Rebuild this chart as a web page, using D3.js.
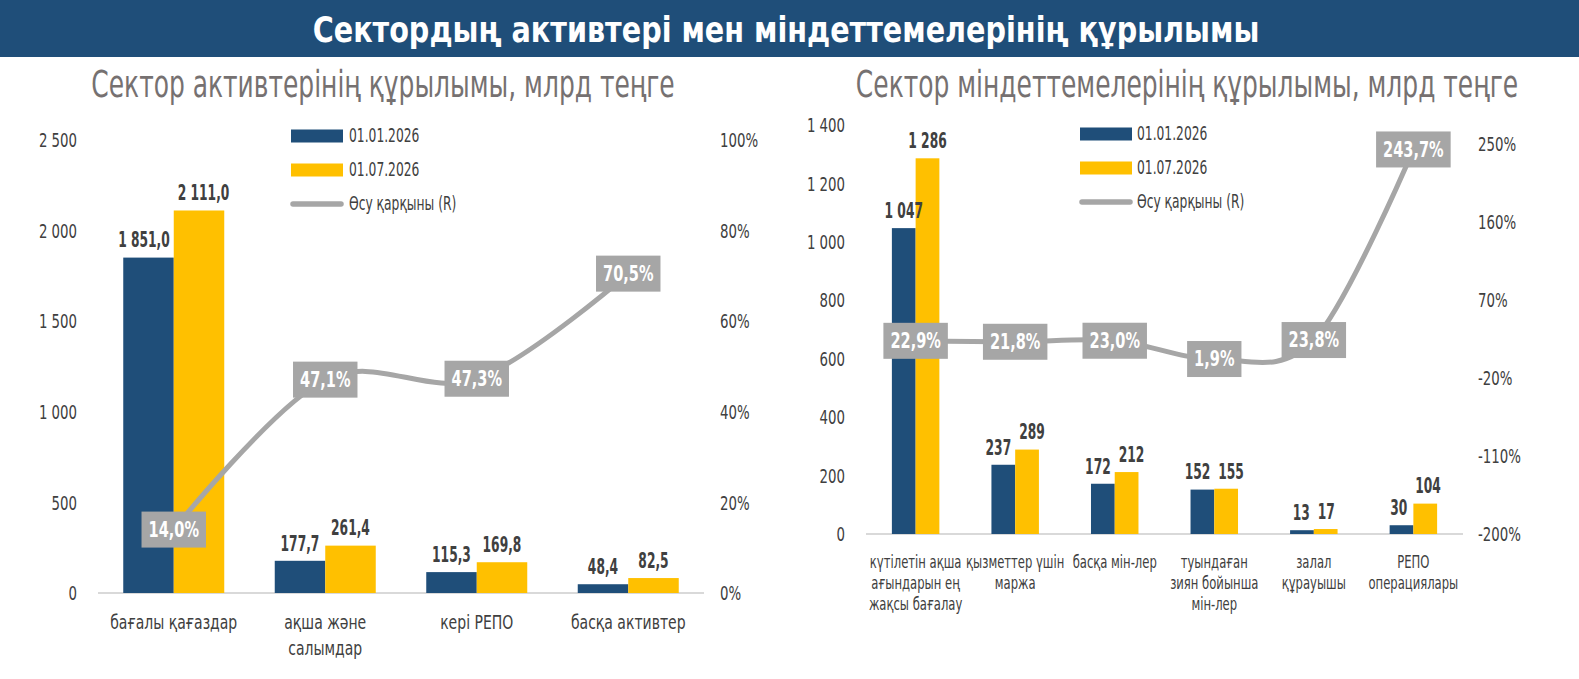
<!DOCTYPE html>
<html><head><meta charset="utf-8">
<script src="https://cdn.jsdelivr.net/npm/d3@7"></script>
<style>
html,body{margin:0;padding:0;background:#fff;}
svg{display:block;}
text{font-family:"DejaVu Sans Condensed","DejaVu Sans",sans-serif;font-stretch:condensed;}
.sq{transform-box:fill-box;}
</style></head><body>
<svg id="chart" width="1579" height="679"></svg>
<script>
// ---------- data ----------
const mainTitle = "Сектордың активтері мен міндеттемелерінің құрылымы";
const seriesNames = ["01.01.2026", "01.07.2026"];
const lineName = "Өсу қарқыны (R)";

const assetsTitle = "Сектор активтерінің құрылымы, млрд теңге";
const assetCategories = ["бағалы қағаздар", "ақша және\nсалымдар", "кері РЕПО", "басқа активтер"];
const assetsJan = [1851.0, 177.7, 115.3, 48.4];
const assetsJul = [2111.0, 261.4, 169.8, 82.5];
const assetsGrowth = [14.0, 47.1, 47.3, 70.5];
const assetsLeftTicks = [0, 500, 1000, 1500, 2000, 2500];
const assetsRightTicks = [0, 20, 40, 60, 80, 100];

const liabTitle = "Сектор міндеттемелерінің құрылымы, млрд теңге";
const liabCategories = ["күтілетін ақша\nағындарын ең\nжақсы бағалау", "қызметтер үшін\nмаржа", "басқа мін-лер",
  "туындаған\nзиян бойынша\nмін-лер", "залал\nқұрауышы", "РЕПО\nоперациялары"];
const liabJan = [1047, 237, 172, 152, 13, 30];
const liabJul = [1286, 289, 212, 155, 17, 104];
const liabGrowth = [22.9, 21.8, 23.0, 1.9, 23.8, 243.7];
const liabLeftTicks = [0, 200, 400, 600, 800, 1000, 1200, 1400];
const liabRightTicks = [-200, -110, -20, 70, 160, 250];

// ---------- styles ----------
const C = {blue: "#1f4e79", yellow: "#ffc000", grey: "#a6a6a6", text: "#404040", sub: "#767171", base: "#d9d9d9"};
const loc = d3.formatLocale({decimal: ",", thousands: " ", grouping: [3], currency: ["", ""], minus: "-"});
const svg = d3.select("#chart");

// horizontal condensing to imitate a narrow DIN-like face
function squeeze(sel, k, origin) {
  sel.classed("sq", true).style("transform-origin", origin).style("transform", `scaleX(${k})`);
  return sel;
}

svg.append("rect").attr("x", 0).attr("y", 0).attr("width", 1579).attr("height", 57).attr("fill", C.blue);
squeeze(svg.append("text").attr("x", 786).attr("y", 30).attr("text-anchor", "middle").attr("dominant-baseline", "central")
  .attr("fill", "#fff").attr("font-weight", "bold").attr("font-size", 35).text(mainTitle), 0.91, "center");

function panel(o) {
  const g = svg.append("g");
  const n = o.cats.length;
  squeeze(g.append("text").attr("x", o.titleX).attr("y", 84).attr("text-anchor", "middle").attr("dominant-baseline", "central")
    .attr("fill", C.sub).attr("font-size", 38).text(o.title), 0.73, "center");

  const x0 = d3.scaleBand().domain(d3.range(n)).range(o.xRange).paddingInner(o.pi).paddingOuter(o.po);
  const x1 = d3.scaleBand().domain([0, 1]).range([0, x0.bandwidth()]);
  const yL = d3.scaleLinear().domain(o.leftDomain).range(o.leftRange);
  const yR = d3.scaleLinear().domain(o.rightDomain).range(o.rightRange);
  const cx = i => x0(i) + x0.bandwidth() / 2;

  // axes
  const axL = g.append("g").attr("transform", `translate(${o.leftAxisX},0)`)
    .call(d3.axisLeft(yL).tickValues(o.leftTicks).tickFormat(loc.format(",")).tickSize(0).tickPadding(0));
  const axR = g.append("g").attr("transform", `translate(${o.rightAxisX},0)`)
    .call(d3.axisRight(yR).tickValues(o.rightTicks).tickFormat(d => loc.format("d")(d) + "%").tickSize(0).tickPadding(0));
  [[axL, "right center"], [axR, "left center"]].forEach(([a, orig]) => {
    a.select(".domain").remove();
    a.attr("font-family", null).attr("font-size", 19).attr("color", C.text);
    squeeze(a.selectAll("text").attr("dy", null).attr("dominant-baseline", "central"), 0.78, orig);
  });

  // baseline
  g.append("line").attr("x1", o.xRange[0]).attr("x2", o.xRange[1]).attr("y1", yL(0)).attr("y2", yL(0))
    .attr("stroke", C.base).attr("stroke-width", 2);

  // bars
  const series = [o.s1, o.s2];
  const colors = [C.blue, C.yellow];
  series.forEach((s, k) => {
    g.append("g").selectAll("rect").data(s).join("rect")
      .attr("x", (d, i) => x0(i) + x1(k)).attr("width", x1.bandwidth())
      .attr("y", d => yL(d)).attr("height", d => yL(0) - yL(d)).attr("fill", colors[k]);
  });

  // value labels
  const kV = 0.62;
  const fmtV = loc.format(o.valueFmt);
  const labels = series.map((s, k) => squeeze(g.append("g").selectAll("text").data(s).join("text")
    .attr("x", (d, i) => x0(i) + x1(k) + x1.bandwidth() / 2).attr("y", d => yL(d) - 18)
    .attr("text-anchor", "middle").attr("dominant-baseline", "central")
    .attr("font-weight", "bold").attr("font-size", 22).attr("fill", C.text).text(d => fmtV(d)), kV, "center"));
  // nudge pairs apart when they would crowd each other
  const a = labels[0].nodes(), b = labels[1].nodes();
  a.forEach((na, i) => {
    const nb = b[i];
    const wa = na.getComputedTextLength() * kV, wb = nb.getComputedTextLength() * kV;
    const xa = +na.getAttribute("x"), xb = +nb.getAttribute("x");
    const dy = Math.abs(+na.getAttribute("y") - +nb.getAttribute("y"));
    const need = (wa + wb) / 2 + 8 - (xb - xa);
    if (dy < 60 && need > 0) {
      na.setAttribute("x", xa - need / 2);
      nb.setAttribute("x", xb + need / 2);
    }
  });

  // growth line
  const line = d3.line().x((d, i) => cx(i)).y(d => yR(d)).curve(d3.curveCardinal.tension(0));
  g.append("path").datum(o.growth).attr("d", line).attr("fill", "none").attr("stroke", C.grey)
    .attr("stroke-width", 5).attr("stroke-linecap", "round");
  const kP = 0.77;
  const fmtP = v => loc.format(".1f")(v) + "%";
  const pl = g.append("g").selectAll("g").data(o.growth).join("g")
    .attr("transform", (d, i) => `translate(${cx(i)},${yR(d)})`);
  pl.append("rect").attr("fill", C.grey);
  squeeze(pl.append("text").attr("text-anchor", "middle").attr("dominant-baseline", "central").attr("fill", "#fff")
    .attr("font-weight", "bold").attr("font-size", 21).text(fmtP), kP, "center");
  pl.each(function () {
    const t = d3.select(this).select("text").node();
    const w = t.getComputedTextLength() * kP + 14;
    d3.select(this).select("rect").attr("x", -w / 2).attr("y", -18).attr("width", w).attr("height", 36);
  });

  // category labels (one text per line)
  o.cats.forEach((d, i) => {
    d.split("\n").forEach((ln, j) => {
      squeeze(g.append("text").attr("x", cx(i)).attr("y", o.catY + j * o.catLH).attr("text-anchor", "middle")
        .attr("dominant-baseline", "central").attr("fill", C.text).attr("font-size", o.catSize).text(ln), o.catK, "center");
    });
  });

  // legend
  const lg = g.append("g").attr("transform", `translate(${o.legX},${o.legY})`);
  const items = [{t: seriesNames[0], c: C.blue, type: "rect"}, {t: seriesNames[1], c: C.yellow, type: "rect"}, {t: lineName, c: C.grey, type: "line"}];
  items.forEach((it, k) => {
    const yy = k * 34;
    if (it.type === "rect") lg.append("rect").attr("x", 0).attr("y", yy - 6.5).attr("width", 52).attr("height", 13).attr("fill", it.c);
    else lg.append("line").attr("x1", 2).attr("x2", 50).attr("y1", yy).attr("y2", yy).attr("stroke", it.c).attr("stroke-width", 5.5).attr("stroke-linecap", "round");
    squeeze(lg.append("text").attr("x", o.legTextX).attr("y", yy).attr("dominant-baseline", "central").attr("font-size", 19)
      .attr("fill", C.text).text(it.t), 0.72, "left center");
  });
}

panel({
  title: assetsTitle, titleX: 383, cats: assetCategories, s1: assetsJan, s2: assetsJul, growth: assetsGrowth,
  xRange: [98, 704], pi: 1 / 3, po: 1 / 6,
  leftDomain: [0, 2500], leftRange: [593, 140], rightDomain: [0, 100], rightRange: [593, 140],
  leftTicks: assetsLeftTicks, rightTicks: assetsRightTicks, leftAxisX: 77, rightAxisX: 720,
  valueFmt: ",.1f", catY: 622, catLH: 26, catSize: 19, catK: 0.82,
  legX: 291, legY: 136, legTextX: 58
});
panel({
  title: liabTitle, titleX: 1187, cats: liabCategories, s1: liabJan, s2: liabJul, growth: liabGrowth,
  xRange: [866, 1463], pi: 0.523, po: 0.26,
  leftDomain: [0, 1400], leftRange: [534, 125], rightDomain: [-200, 250], rightRange: [534, 144],
  leftTicks: liabLeftTicks, rightTicks: liabRightTicks, leftAxisX: 845, rightAxisX: 1478,
  valueFmt: ",.0f", catY: 562, catLH: 21, catSize: 17, catK: 0.76,
  legX: 1080, legY: 134, legTextX: 57
});
</script>
</body></html>
